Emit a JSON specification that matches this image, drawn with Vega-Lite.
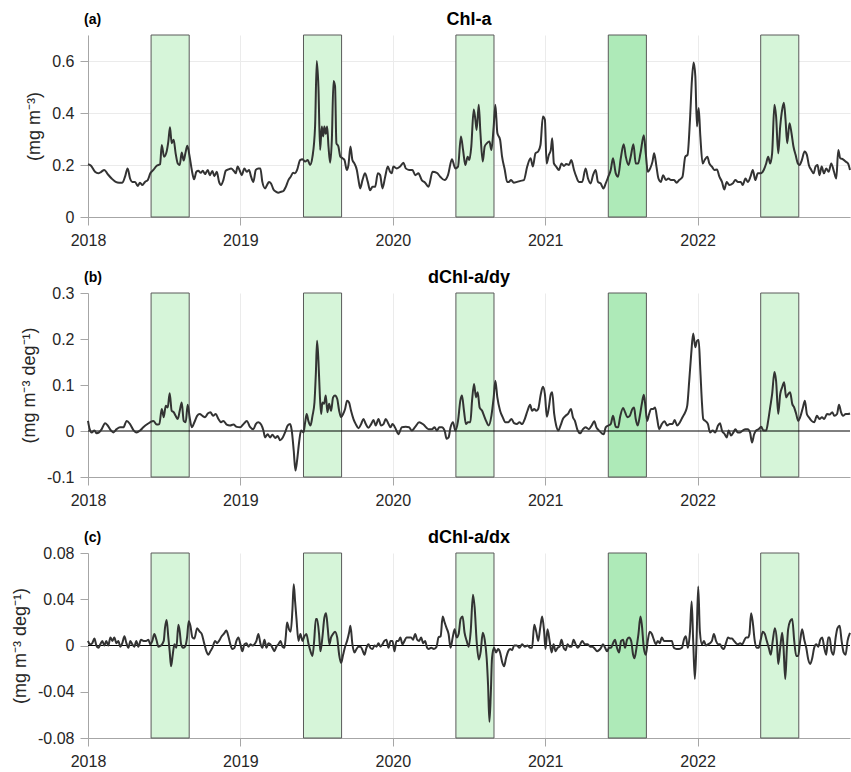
{
"$schema": "https://vega.github.io/schema/vega-lite/v6.json",
"padding": {"left": 11, "top": 11, "right": 0, "bottom": 0},
"spacing": 21,
"config": {
  "font": "Liberation Sans",
  "view": {"stroke": null},
  "axis": {"labelFontSize": 16, "labelColor": "#262626", "titleFontSize": 18, "titleFontWeight": "normal", "titleColor": "#262626", "domainColor": "#a6a6a6", "tickColor": "#a6a6a6", "tickSize": 8, "gridColor": "#ebebeb", "labelFlush": false}
},
"datasets": {
"boxes": [{"s":2018.414,"e":2018.664,"k":"n"},{"s":2019.414,"e":2019.664,"k":"n"},{"s":2020.414,"e":2020.664,"k":"n"},{"s":2021.414,"e":2021.664,"k":"h"},{"s":2022.414,"e":2022.664,"k":"n"}],
"a": [
{"t":2018.000,"v":0.203},{"t":2018.020,"v":0.197},{"t":2018.046,"v":0.174},{"t":2018.068,"v":0.168},{"t":2018.085,"v":0.173},{"t":2018.107,"v":0.181},{"t":2018.129,"v":0.165},{"t":2018.155,"v":0.148},{"t":2018.182,"v":0.135},{"t":2018.204,"v":0.132},{"t":2018.225,"v":0.132},{"t":2018.243,"v":0.155},{"t":2018.260,"v":0.187},{"t":2018.276,"v":0.148},{"t":2018.291,"v":0.135},{"t":2018.309,"v":0.135},{"t":2018.326,"v":0.119},{"t":2018.341,"v":0.132},{"t":2018.357,"v":0.123},{"t":2018.374,"v":0.135},{"t":2018.392,"v":0.142},{"t":2018.409,"v":0.168},{"t":2018.429,"v":0.181},{"t":2018.451,"v":0.197},{"t":2018.473,"v":0.203},{"t":2018.484,"v":0.277},{"t":2018.499,"v":0.232},{"t":2018.516,"v":0.252},{"t":2018.527,"v":0.29},{"t":2018.538,"v":0.345},{"t":2018.549,"v":0.284},{"t":2018.562,"v":0.297},{"t":2018.575,"v":0.245},{"t":2018.589,"v":0.206},{"t":2018.602,"v":0.2},{"t":2018.615,"v":0.248},{"t":2018.628,"v":0.217},{"t":2018.639,"v":0.245},{"t":2018.652,"v":0.274},{"t":2018.665,"v":0.239},{"t":2018.681,"v":0.181},{"t":2018.696,"v":0.145},{"t":2018.711,"v":0.174},{"t":2018.724,"v":0.178},{"t":2018.740,"v":0.17},{"t":2018.753,"v":0.178},{"t":2018.768,"v":0.165},{"t":2018.786,"v":0.181},{"t":2018.799,"v":0.161},{"t":2018.816,"v":0.177},{"t":2018.829,"v":0.157},{"t":2018.845,"v":0.174},{"t":2018.860,"v":0.135},{"t":2018.873,"v":0.123},{"t":2018.888,"v":0.142},{"t":2018.904,"v":0.178},{"t":2018.921,"v":0.183},{"t":2018.939,"v":0.187},{"t":2018.956,"v":0.178},{"t":2018.969,"v":0.168},{"t":2018.982,"v":0.194},{"t":2018.996,"v":0.178},{"t":2019.009,"v":0.161},{"t":2019.026,"v":0.187},{"t":2019.042,"v":0.174},{"t":2019.057,"v":0.181},{"t":2019.070,"v":0.155},{"t":2019.085,"v":0.135},{"t":2019.101,"v":0.181},{"t":2019.118,"v":0.187},{"t":2019.131,"v":0.187},{"t":2019.144,"v":0.135},{"t":2019.162,"v":0.11},{"t":2019.175,"v":0.123},{"t":2019.188,"v":0.135},{"t":2019.201,"v":0.129},{"t":2019.217,"v":0.106},{"t":2019.234,"v":0.097},{"t":2019.249,"v":0.093},{"t":2019.267,"v":0.097},{"t":2019.282,"v":0.1},{"t":2019.298,"v":0.116},{"t":2019.315,"v":0.142},{"t":2019.330,"v":0.155},{"t":2019.346,"v":0.17},{"t":2019.359,"v":0.168},{"t":2019.372,"v":0.181},{"t":2019.392,"v":0.219},{"t":2019.407,"v":0.222},{"t":2019.425,"v":0.213},{"t":2019.442,"v":0.219},{"t":2019.457,"v":0.2},{"t":2019.473,"v":0.232},{"t":2019.490,"v":0.348},{"t":2019.501,"v":0.6},{"t":2019.512,"v":0.5},{"t":2019.523,"v":0.258},{"t":2019.534,"v":0.348},{"t":2019.543,"v":0.31},{"t":2019.551,"v":0.348},{"t":2019.560,"v":0.32},{"t":2019.569,"v":0.348},{"t":2019.578,"v":0.271},{"t":2019.589,"v":0.209},{"t":2019.600,"v":0.297},{"t":2019.611,"v":0.523},{"t":2019.621,"v":0.503},{"t":2019.630,"v":0.284},{"t":2019.643,"v":0.271},{"t":2019.656,"v":0.232},{"t":2019.670,"v":0.226},{"t":2019.683,"v":0.219},{"t":2019.698,"v":0.181},{"t":2019.709,"v":0.2},{"t":2019.722,"v":0.271},{"t":2019.735,"v":0.219},{"t":2019.748,"v":0.206},{"t":2019.764,"v":0.181},{"t":2019.775,"v":0.142},{"t":2019.786,"v":0.11},{"t":2019.801,"v":0.142},{"t":2019.818,"v":0.168},{"t":2019.836,"v":0.135},{"t":2019.851,"v":0.103},{"t":2019.867,"v":0.116},{"t":2019.884,"v":0.116},{"t":2019.902,"v":0.168},{"t":2019.917,"v":0.161},{"t":2019.932,"v":0.11},{"t":2019.950,"v":0.155},{"t":2019.967,"v":0.194},{"t":2019.982,"v":0.174},{"t":2019.993,"v":0.168},{"t":2020.004,"v":0.194},{"t":2020.026,"v":0.187},{"t":2020.048,"v":0.194},{"t":2020.070,"v":0.209},{"t":2020.085,"v":0.187},{"t":2020.107,"v":0.181},{"t":2020.129,"v":0.181},{"t":2020.147,"v":0.161},{"t":2020.168,"v":0.168},{"t":2020.190,"v":0.142},{"t":2020.212,"v":0.132},{"t":2020.234,"v":0.116},
{"t":2020.261,"v":0.174},{"t":2020.289,"v":0.17},{"t":2020.311,"v":0.155},{"t":2020.340,"v":0.142},{"t":2020.362,"v":0.161},{"t":2020.388,"v":0.222},{"t":2020.410,"v":0.187},{"t":2020.428,"v":0.194},{"t":2020.447,"v":0.31},{"t":2020.461,"v":0.258},{"t":2020.476,"v":0.2},{"t":2020.491,"v":0.232},{"t":2020.502,"v":0.219},{"t":2020.515,"v":0.271},{"t":2020.531,"v":0.413},{"t":2020.542,"v":0.374},{"t":2020.550,"v":0.335},{"t":2020.564,"v":0.432},{"t":2020.575,"v":0.323},{"t":2020.590,"v":0.213},{"t":2020.603,"v":0.271},{"t":2020.618,"v":0.284},{"t":2020.634,"v":0.29},{"t":2020.647,"v":0.258},{"t":2020.662,"v":0.348},{"t":2020.673,"v":0.432},{"t":2020.686,"v":0.323},{"t":2020.704,"v":0.297},{"t":2020.717,"v":0.232},{"t":2020.735,"v":0.181},{"t":2020.750,"v":0.135},{"t":2020.761,"v":0.135},{"t":2020.776,"v":0.142},{"t":2020.794,"v":0.132},{"t":2020.816,"v":0.135},{"t":2020.838,"v":0.139},{"t":2020.860,"v":0.142},{"t":2020.882,"v":0.194},{"t":2020.904,"v":0.226},{"t":2020.919,"v":0.194},{"t":2020.936,"v":0.245},{"t":2020.954,"v":0.252},{"t":2020.969,"v":0.277},{"t":2020.985,"v":0.387},{"t":2020.998,"v":0.374},{"t":2021.009,"v":0.206},{"t":2021.024,"v":0.239},{"t":2021.037,"v":0.258},{"t":2021.046,"v":0.303},{"t":2021.057,"v":0.206},{"t":2021.072,"v":0.194},{"t":2021.090,"v":0.181},{"t":2021.107,"v":0.206},{"t":2021.123,"v":0.196},{"t":2021.138,"v":0.204},{"t":2021.156,"v":0.2},{"t":2021.171,"v":0.219},{"t":2021.189,"v":0.181},{"t":2021.204,"v":0.155},{"t":2021.221,"v":0.135},{"t":2021.243,"v":0.135},{"t":2021.265,"v":0.187},{"t":2021.281,"v":0.148},{"t":2021.298,"v":0.129},{"t":2021.314,"v":0.161},{"t":2021.331,"v":0.181},{"t":2021.346,"v":0.135},{"t":2021.364,"v":0.129},{"t":2021.382,"v":0.11},{"t":2021.397,"v":0.129},{"t":2021.414,"v":0.155},{"t":2021.430,"v":0.181},{"t":2021.445,"v":0.226},{"t":2021.463,"v":0.168},{"t":2021.478,"v":0.155},{"t":2021.496,"v":0.226},{"t":2021.515,"v":0.28},{"t":2021.529,"v":0.232},{"t":2021.546,"v":0.2},{"t":2021.561,"v":0.232},{"t":2021.579,"v":0.28},{"t":2021.594,"v":0.206},{"t":2021.610,"v":0.206},{"t":2021.625,"v":0.245},{"t":2021.647,"v":0.314},{"t":2021.660,"v":0.245},{"t":2021.673,"v":0.174},{"t":2021.689,"v":0.187},{"t":2021.704,"v":0.213},{"t":2021.715,"v":0.245},{"t":2021.730,"v":0.194},{"t":2021.743,"v":0.148},{"t":2021.759,"v":0.135},{"t":2021.774,"v":0.161},{"t":2021.792,"v":0.142},{"t":2021.809,"v":0.148},{"t":2021.825,"v":0.142},{"t":2021.846,"v":0.142},{"t":2021.862,"v":0.132},{"t":2021.879,"v":0.142},{"t":2021.901,"v":0.155},{"t":2021.919,"v":0.232},{"t":2021.934,"v":0.239},{"t":2021.950,"v":0.374},{"t":2021.963,"v":0.529},{"t":2021.974,"v":0.594},{"t":2021.985,"v":0.542},{"t":2021.996,"v":0.348},{"t":2022.007,"v":0.419},{"t":2022.018,"v":0.31},{"t":2022.033,"v":0.206},{"t":2022.046,"v":0.219},{"t":2022.064,"v":0.232},{"t":2022.077,"v":0.206},{"t":2022.094,"v":0.194},{"t":2022.110,"v":0.181},{"t":2022.127,"v":0.183},{"t":2022.143,"v":0.155},{"t":2022.160,"v":0.135},{"t":2022.175,"v":0.106},{"t":2022.191,"v":0.135},{"t":2022.208,"v":0.123},{"t":2022.230,"v":0.129},{"t":2022.248,"v":0.142},{"t":2022.265,"v":0.135},{"t":2022.283,"v":0.135},{"t":2022.296,"v":0.123},{"t":2022.314,"v":0.148},{"t":2022.329,"v":0.135},{"t":2022.347,"v":0.155},{"t":2022.362,"v":0.181},{"t":2022.379,"v":0.142},{"t":2022.395,"v":0.168},{"t":2022.414,"v":0.168},{"t":2022.434,"v":0.181},{"t":2022.450,"v":0.206},{"t":2022.463,"v":0.232},{"t":2022.476,"v":0.206},{"t":2022.489,"v":0.245},{"t":2022.504,"v":0.432},{"t":2022.515,"v":0.387},{"t":2022.529,"v":0.245},{"t":2022.542,"v":0.348},{"t":2022.555,"v":0.413},{"t":2022.566,"v":0.439},{"t":2022.577,"v":0.374},{"t":2022.588,"v":0.284},{"t":2022.603,"v":0.361},{"t":2022.616,"v":0.323},{"t":2022.629,"v":0.271},{"t":2022.643,"v":0.239},{"t":2022.658,"v":0.206},{"t":2022.669,"v":0.2},{"t":2022.684,"v":0.219},{"t":2022.702,"v":0.252},{"t":2022.717,"v":0.239},{"t":2022.730,"v":0.2},{"t":2022.746,"v":0.181},{"t":2022.761,"v":0.168},{"t":2022.774,"v":0.194},{"t":2022.787,"v":0.2},{"t":2022.800,"v":0.161},{"t":2022.814,"v":0.194},{"t":2022.829,"v":0.168},{"t":2022.844,"v":0.187},{"t":2022.860,"v":0.174},{"t":2022.877,"v":0.206},{"t":2022.895,"v":0.174},{"t":2022.910,"v":0.148},{"t":2022.923,"v":0.258},{"t":2022.936,"v":0.226},{"t":2022.954,"v":0.222},{"t":2022.972,"v":0.213},{"t":2022.987,"v":0.206},{"t":2023.000,"v":0.181}
],
"b": [
{"t":2018.000,"v":0.022},{"t":2018.011,"v":0.004},{"t":2018.024,"v":-0.003},{"t":2018.042,"v":0.001},{"t":2018.057,"v":-0.005},{"t":2018.072,"v":-0.003},{"t":2018.090,"v":0.004},{"t":2018.112,"v":0.017},{"t":2018.129,"v":0.012},{"t":2018.151,"v":0.001},{"t":2018.166,"v":-0.003},{"t":2018.188,"v":0.004},{"t":2018.210,"v":0.008},{"t":2018.232,"v":0.008},{"t":2018.254,"v":0.022},{"t":2018.276,"v":0.015},{"t":2018.298,"v":0.002},{"t":2018.319,"v":-0.003},{"t":2018.341,"v":0.001},{"t":2018.363,"v":0.008},{"t":2018.385,"v":0.014},{"t":2018.407,"v":0.019},{"t":2018.429,"v":0.022},{"t":2018.451,"v":0.014},{"t":2018.468,"v":0.015},{"t":2018.484,"v":0.048},{"t":2018.497,"v":0.03},{"t":2018.510,"v":0.055},{"t":2018.523,"v":0.051},{"t":2018.536,"v":0.082},{"t":2018.549,"v":0.044},{"t":2018.562,"v":0.041},{"t":2018.575,"v":0.033},{"t":2018.589,"v":0.026},{"t":2018.602,"v":0.044},{"t":2018.615,"v":0.062},{"t":2018.628,"v":0.022},{"t":2018.641,"v":0.019},{"t":2018.654,"v":0.057},{"t":2018.667,"v":0.03},{"t":2018.681,"v":0.008},{"t":2018.698,"v":0.019},{"t":2018.716,"v":0.033},{"t":2018.733,"v":0.037},{"t":2018.751,"v":0.033},{"t":2018.768,"v":0.03},{"t":2018.786,"v":0.038},{"t":2018.803,"v":0.041},{"t":2018.821,"v":0.033},{"t":2018.838,"v":0.037},{"t":2018.856,"v":0.026},{"t":2018.873,"v":0.019},{"t":2018.888,"v":0.022},{"t":2018.910,"v":0.014},{"t":2018.932,"v":0.012},{"t":2018.954,"v":0.014},{"t":2018.976,"v":0.009},{"t":2018.998,"v":0.008},{"t":2019.020,"v":0.015},{"t":2019.042,"v":0.022},{"t":2019.063,"v":0.009},{"t":2019.085,"v":0.004},{"t":2019.101,"v":0.015},{"t":2019.118,"v":0.019},{"t":2019.136,"v":0.014},{"t":2019.151,"v":0.001},{"t":2019.162,"v":-0.014},{"t":2019.179,"v":-0.007},{"t":2019.195,"v":-0.014},{"t":2019.210,"v":-0.008},{"t":2019.228,"v":-0.015},{"t":2019.245,"v":-0.011},{"t":2019.260,"v":-0.02},{"t":2019.278,"v":-0.014},{"t":2019.293,"v":-0.003},{"t":2019.311,"v":0.012},{"t":2019.326,"v":0.015},{"t":2019.337,"v":0.001},{"t":2019.350,"v":-0.043},{"t":2019.361,"v":-0.086},{"t":2019.372,"v":-0.064},{"t":2019.385,"v":-0.025},{"t":2019.398,"v":0.001},{"t":2019.414,"v":-0.003},{"t":2019.425,"v":0.019},{"t":2019.435,"v":0.037},{"t":2019.446,"v":0.022},{"t":2019.460,"v":0.012},{"t":2019.473,"v":0.033},{"t":2019.486,"v":0.062},{"t":2019.495,"v":0.124},{"t":2019.503,"v":0.196},{"t":2019.512,"v":0.153},{"t":2019.521,"v":0.08},{"t":2019.530,"v":0.037},{"t":2019.538,"v":0.062},{"t":2019.549,"v":0.059},{"t":2019.560,"v":0.077},{"t":2019.571,"v":0.041},{"t":2019.582,"v":0.059},{"t":2019.595,"v":0.044},{"t":2019.608,"v":0.073},{"t":2019.621,"v":0.077},{"t":2019.635,"v":0.07},{"t":2019.648,"v":0.044},{"t":2019.661,"v":0.03},{"t":2019.674,"v":0.037},{"t":2019.687,"v":0.048},{"t":2019.700,"v":0.066},{"t":2019.713,"v":0.062},{"t":2019.726,"v":0.044},{"t":2019.742,"v":0.026},{"t":2019.757,"v":0.015},{"t":2019.775,"v":0.006},{"t":2019.792,"v":0.015},{"t":2019.807,"v":0.026},{"t":2019.823,"v":0.015},{"t":2019.840,"v":0.007},{"t":2019.858,"v":0.015},{"t":2019.873,"v":0.024},{"t":2019.888,"v":0.012},{"t":2019.906,"v":0.026},{"t":2019.923,"v":0.012},{"t":2019.939,"v":0.015},{"t":2019.954,"v":0.026},{"t":2019.972,"v":0.015},{"t":2019.985,"v":0.008},{"t":2019.998,"v":0.015},{"t":2020.020,"v":0.004},{"t":2020.037,"v":-0.007},{"t":2020.059,"v":0.008},{"t":2020.085,"v":0.009},{"t":2020.107,"v":0.008},{"t":2020.125,"v":0.001},{"t":2020.147,"v":0.009},{"t":2020.173,"v":0.019},{"t":2020.201,"v":0.014},{"t":2020.234,"v":0.004},
{"t":2020.257,"v":0.004},{"t":2020.274,"v":0.008},{"t":2020.289,"v":0.001},{"t":2020.305,"v":0.008},{"t":2020.322,"v":0.008},{"t":2020.340,"v":0.001},{"t":2020.353,"v":-0.017},{"t":2020.366,"v":-0.014},{"t":2020.379,"v":0.008},{"t":2020.395,"v":0.019},{"t":2020.410,"v":0.001},{"t":2020.428,"v":0.022},{"t":2020.443,"v":0.066},{"t":2020.454,"v":0.077},{"t":2020.467,"v":0.044},{"t":2020.480,"v":0.015},{"t":2020.493,"v":0.019},{"t":2020.509,"v":0.019},{"t":2020.520,"v":0.066},{"t":2020.533,"v":0.102},{"t":2020.546,"v":0.073},{"t":2020.557,"v":0.084},{"t":2020.570,"v":0.051},{"t":2020.586,"v":0.044},{"t":2020.599,"v":0.033},{"t":2020.612,"v":0.022},{"t":2020.629,"v":0.012},{"t":2020.647,"v":0.033},{"t":2020.662,"v":0.073},{"t":2020.673,"v":0.109},{"t":2020.686,"v":0.073},{"t":2020.704,"v":0.044},{"t":2020.721,"v":0.03},{"t":2020.739,"v":0.019},{"t":2020.757,"v":0.019},{"t":2020.779,"v":0.026},{"t":2020.796,"v":0.017},{"t":2020.814,"v":0.015},{"t":2020.831,"v":0.019},{"t":2020.849,"v":0.015},{"t":2020.866,"v":0.026},{"t":2020.884,"v":0.044},{"t":2020.901,"v":0.057},{"t":2020.914,"v":0.044},{"t":2020.928,"v":0.048},{"t":2020.941,"v":0.044},{"t":2020.954,"v":0.048},{"t":2020.971,"v":0.08},{"t":2020.985,"v":0.096},{"t":2020.998,"v":0.08},{"t":2021.011,"v":0.031},{"t":2021.024,"v":0.051},{"t":2021.037,"v":0.08},{"t":2021.046,"v":0.084},{"t":2021.059,"v":0.037},{"t":2021.072,"v":0.012},{"t":2021.086,"v":0.001},{"t":2021.101,"v":0.012},{"t":2021.116,"v":0.026},{"t":2021.134,"v":0.033},{"t":2021.151,"v":0.038},{"t":2021.169,"v":0.048},{"t":2021.182,"v":0.03},{"t":2021.195,"v":0.022},{"t":2021.213,"v":0.001},{"t":2021.230,"v":-0.005},{"t":2021.248,"v":0.004},{"t":2021.265,"v":0.008},{"t":2021.287,"v":0.004},{"t":2021.305,"v":0.012},{"t":2021.322,"v":0.021},{"t":2021.336,"v":0.008},{"t":2021.353,"v":0.001},{"t":2021.371,"v":-0.005},{"t":2021.384,"v":-0.007},{"t":2021.397,"v":0.008},{"t":2021.414,"v":0.012},{"t":2021.430,"v":0.015},{"t":2021.445,"v":0.033},{"t":2021.463,"v":0.009},{"t":2021.478,"v":0.008},{"t":2021.493,"v":0.033},{"t":2021.511,"v":0.05},{"t":2021.524,"v":0.041},{"t":2021.539,"v":0.03},{"t":2021.555,"v":0.033},{"t":2021.572,"v":0.048},{"t":2021.583,"v":0.051},{"t":2021.594,"v":0.026},{"t":2021.607,"v":0.012},{"t":2021.621,"v":0.033},{"t":2021.634,"v":0.059},{"t":2021.647,"v":0.079},{"t":2021.656,"v":0.059},{"t":2021.669,"v":0.022},{"t":2021.682,"v":0.037},{"t":2021.695,"v":0.048},{"t":2021.708,"v":0.048},{"t":2021.721,"v":0.051},{"t":2021.735,"v":0.026},{"t":2021.748,"v":0.004},{"t":2021.765,"v":0.015},{"t":2021.783,"v":0.021},{"t":2021.800,"v":0.012},{"t":2021.818,"v":0.015},{"t":2021.836,"v":0.015},{"t":2021.849,"v":0.024},{"t":2021.866,"v":0.012},{"t":2021.884,"v":0.019},{"t":2021.901,"v":0.03},{"t":2021.919,"v":0.041},{"t":2021.932,"v":0.055},{"t":2021.945,"v":0.109},{"t":2021.958,"v":0.167},{"t":2021.971,"v":0.212},{"t":2021.985,"v":0.182},{"t":2021.996,"v":0.196},{"t":2022.007,"v":0.198},{"t":2022.018,"v":0.131},{"t":2022.029,"v":0.059},{"t":2022.037,"v":0.026},{"t":2022.050,"v":0.022},{"t":2022.068,"v":0.015},{"t":2022.081,"v":-0.003},{"t":2022.099,"v":0.001},{"t":2022.116,"v":-0.003},{"t":2022.134,"v":0.012},{"t":2022.147,"v":0.017},{"t":2022.160,"v":0.001},{"t":2022.178,"v":-0.007},{"t":2022.191,"v":-0.014},{"t":2022.204,"v":0.001},{"t":2022.219,"v":-0.01},{"t":2022.235,"v":-0.003},{"t":2022.248,"v":0.004},{"t":2022.263,"v":-0.003},{"t":2022.279,"v":-0.003},{"t":2022.296,"v":0.001},{"t":2022.314,"v":0.004},{"t":2022.329,"v":0.004},{"t":2022.344,"v":-0.003},{"t":2022.357,"v":-0.025},{"t":2022.371,"v":-0.007},{"t":2022.384,"v":0.001},{"t":2022.401,"v":0.004},{"t":2022.417,"v":0.009},{"t":2022.432,"v":0.001},{"t":2022.450,"v":0.001},{"t":2022.463,"v":0.022},{"t":2022.476,"v":0.051},{"t":2022.489,"v":0.08},{"t":2022.504,"v":0.128},{"t":2022.515,"v":0.109},{"t":2022.529,"v":0.037},{"t":2022.542,"v":0.08},{"t":2022.555,"v":0.095},{"t":2022.568,"v":0.106},{"t":2022.581,"v":0.073},{"t":2022.594,"v":0.08},{"t":2022.607,"v":0.084},{"t":2022.621,"v":0.059},{"t":2022.634,"v":0.051},{"t":2022.647,"v":0.037},{"t":2022.660,"v":0.022},{"t":2022.673,"v":0.03},{"t":2022.691,"v":0.051},{"t":2022.704,"v":0.066},{"t":2022.717,"v":0.037},{"t":2022.730,"v":0.03},{"t":2022.748,"v":0.022},{"t":2022.765,"v":0.019},{"t":2022.783,"v":0.033},{"t":2022.800,"v":0.026},{"t":2022.816,"v":0.03},{"t":2022.831,"v":0.026},{"t":2022.849,"v":0.037},{"t":2022.866,"v":0.036},{"t":2022.884,"v":0.041},{"t":2022.897,"v":0.033},{"t":2022.915,"v":0.037},{"t":2022.928,"v":0.057},{"t":2022.941,"v":0.041},{"t":2022.954,"v":0.033},{"t":2022.972,"v":0.037},{"t":2022.987,"v":0.037},{"t":2023.000,"v":0.038}
],
"c": [
{"t":2018.000,"v":0.004},{"t":2018.013,"v":0.001},{"t":2018.028,"v":0.002},{"t":2018.042,"v":0.006},{"t":2018.055,"v":0},{"t":2018.068,"v":-0.002},{"t":2018.081,"v":0.001},{"t":2018.094,"v":0.004},{"t":2018.107,"v":0},{"t":2018.120,"v":0.004},{"t":2018.133,"v":0},{"t":2018.147,"v":0.007},{"t":2018.160,"v":0.004},{"t":2018.173,"v":0.007},{"t":2018.186,"v":0.002},{"t":2018.199,"v":0.004},{"t":2018.212,"v":-0.001},{"t":2018.225,"v":0.002},{"t":2018.239,"v":0.008},{"t":2018.252,"v":0.002},{"t":2018.265,"v":-0.002},{"t":2018.278,"v":0.004},{"t":2018.291,"v":0.001},{"t":2018.304,"v":-0.001},{"t":2018.317,"v":0.004},{"t":2018.330,"v":-0.001},{"t":2018.348,"v":0.005},{"t":2018.365,"v":0.004},{"t":2018.383,"v":0.004},{"t":2018.396,"v":0.005},{"t":2018.409,"v":0.001},{"t":2018.422,"v":0.004},{"t":2018.435,"v":0.01},{"t":2018.449,"v":0.005},{"t":2018.462,"v":-0.001},{"t":2018.479,"v":0},{"t":2018.497,"v":0.004},{"t":2018.505,"v":0.015},{"t":2018.516,"v":0.022},{"t":2018.527,"v":0.007},{"t":2018.536,"v":-0.005},{"t":2018.545,"v":-0.018},{"t":2018.556,"v":-0.008},{"t":2018.567,"v":0.001},{"t":2018.580,"v":-0.002},{"t":2018.593,"v":0.018},{"t":2018.602,"v":0.012},{"t":2018.611,"v":0.001},{"t":2018.624,"v":-0.002},{"t":2018.637,"v":-0.001},{"t":2018.650,"v":0.007},{"t":2018.661,"v":0.021},{"t":2018.672,"v":0.017},{"t":2018.685,"v":0.007},{"t":2018.698,"v":0.006},{"t":2018.716,"v":0.015},{"t":2018.733,"v":0.012},{"t":2018.746,"v":0.01},{"t":2018.764,"v":0.001},{"t":2018.777,"v":-0.005},{"t":2018.790,"v":-0.008},{"t":2018.803,"v":-0.005},{"t":2018.816,"v":-0.002},{"t":2018.834,"v":0.004},{"t":2018.847,"v":0.002},{"t":2018.860,"v":0.004},{"t":2018.877,"v":0.008},{"t":2018.891,"v":0.01},{"t":2018.908,"v":0.013},{"t":2018.921,"v":0.008},{"t":2018.934,"v":0.001},{"t":2018.947,"v":-0.003},{"t":2018.961,"v":-0.002},{"t":2018.974,"v":0.004},{"t":2018.987,"v":0.007},{"t":2019.000,"v":0.001},{"t":2019.013,"v":-0.005},{"t":2019.026,"v":0.001},{"t":2019.039,"v":0.002},{"t":2019.053,"v":-0.001},{"t":2019.066,"v":0.001},{"t":2019.079,"v":0},{"t":2019.092,"v":0.001},{"t":2019.105,"v":0.004},{"t":2019.118,"v":0.01},{"t":2019.131,"v":0.002},{"t":2019.144,"v":-0.002},{"t":2019.158,"v":0.005},{"t":2019.171,"v":-0.002},{"t":2019.184,"v":0.002},{"t":2019.197,"v":0.001},{"t":2019.210,"v":-0.002},{"t":2019.223,"v":-0.005},{"t":2019.236,"v":-0.001},{"t":2019.249,"v":0.001},{"t":2019.263,"v":0.004},{"t":2019.276,"v":-0.001},{"t":2019.289,"v":-0.002},{"t":2019.298,"v":0.008},{"t":2019.306,"v":0.02},{"t":2019.319,"v":0.014},{"t":2019.330,"v":0.012},{"t":2019.341,"v":0.03},{"t":2019.350,"v":0.053},{"t":2019.359,"v":0.038},{"t":2019.368,"v":0.023},{"t":2019.381,"v":0.004},{"t":2019.394,"v":0.01},{"t":2019.407,"v":0.004},{"t":2019.420,"v":0.008},{"t":2019.433,"v":0.01},{"t":2019.446,"v":0.002},{"t":2019.460,"v":-0.005},{"t":2019.473,"v":-0.009},{"t":2019.484,"v":0.004},{"t":2019.495,"v":0.023},{"t":2019.503,"v":0.023},{"t":2019.516,"v":0.01},{"t":2019.525,"v":-0.005},{"t":2019.538,"v":0.007},{"t":2019.551,"v":0.024},{"t":2019.562,"v":0.028},{"t":2019.573,"v":0.015},{"t":2019.584,"v":0.001},{"t":2019.595,"v":0.007},{"t":2019.608,"v":0.01},{"t":2019.621,"v":0.012},{"t":2019.635,"v":0.007},{"t":2019.648,"v":-0.008},{"t":2019.661,"v":-0.015},{"t":2019.674,"v":-0.008},{"t":2019.687,"v":-0.001},{"t":2019.700,"v":0.004},{"t":2019.713,"v":0.011},{"t":2019.722,"v":0.017},{"t":2019.735,"v":0.001},{"t":2019.748,"v":-0.006},{"t":2019.762,"v":-0.003},{"t":2019.775,"v":-0.001},{"t":2019.788,"v":-0.001},{"t":2019.801,"v":-0.004},{"t":2019.814,"v":-0.008},{"t":2019.827,"v":-0.002},{"t":2019.840,"v":0.001},{"t":2019.853,"v":-0.002},{"t":2019.867,"v":-0.003},{"t":2019.880,"v":0},{"t":2019.893,"v":-0.001},{"t":2019.906,"v":0.002},{"t":2019.919,"v":-0.001},{"t":2019.932,"v":0.001},{"t":2019.945,"v":0.004},{"t":2019.958,"v":0.005},{"t":2019.972,"v":-0.002},{"t":2019.985,"v":0.004},{"t":2019.998,"v":0.004},{"t":2020.011,"v":-0.005},{"t":2020.024,"v":0.004},{"t":2020.037,"v":0.004},{"t":2020.050,"v":0.007},{"t":2020.063,"v":0.001},{"t":2020.077,"v":0.004},{"t":2020.090,"v":0.007},{"t":2020.107,"v":0.007},{"t":2020.120,"v":0.007},{"t":2020.133,"v":0.005},{"t":2020.147,"v":0.01},{"t":2020.160,"v":0.005},{"t":2020.173,"v":0.004},{"t":2020.186,"v":0.007},{"t":2020.199,"v":0.002},{"t":2020.212,"v":0.004},{"t":2020.225,"v":-0.002},
{"t":2020.235,"v":-0.003},{"t":2020.252,"v":-0.002},{"t":2020.270,"v":-0.003},{"t":2020.287,"v":-0.001},{"t":2020.300,"v":0.007},{"t":2020.314,"v":0.008},{"t":2020.327,"v":0.025},{"t":2020.340,"v":0.02},{"t":2020.353,"v":0.015},{"t":2020.366,"v":0.01},{"t":2020.379,"v":-0.002},{"t":2020.393,"v":0.007},{"t":2020.406,"v":0.014},{"t":2020.419,"v":0.007},{"t":2020.432,"v":0.01},{"t":2020.445,"v":0.023},{"t":2020.458,"v":0.025},{"t":2020.471,"v":0.011},{"t":2020.485,"v":0.004},{"t":2020.498,"v":-0.001},{"t":2020.511,"v":0.012},{"t":2020.526,"v":0.044},{"t":2020.537,"v":0.033},{"t":2020.550,"v":0.004},{"t":2020.564,"v":-0.012},{"t":2020.577,"v":-0.005},{"t":2020.590,"v":0.011},{"t":2020.603,"v":0.005},{"t":2020.616,"v":-0.011},{"t":2020.625,"v":-0.034},{"t":2020.634,"v":-0.066},{"t":2020.643,"v":-0.042},{"t":2020.651,"v":-0.011},{"t":2020.664,"v":-0.002},{"t":2020.678,"v":-0.006},{"t":2020.691,"v":-0.003},{"t":2020.704,"v":-0.006},{"t":2020.717,"v":-0.014},{"t":2020.730,"v":-0.018},{"t":2020.743,"v":-0.011},{"t":2020.757,"v":-0.005},{"t":2020.770,"v":-0.003},{"t":2020.783,"v":-0.004},{"t":2020.796,"v":0},{"t":2020.814,"v":0},{"t":2020.831,"v":-0.002},{"t":2020.849,"v":0.001},{"t":2020.866,"v":-0.001},{"t":2020.884,"v":0},{"t":2020.901,"v":-0.002},{"t":2020.914,"v":-0.002},{"t":2020.928,"v":0.018},{"t":2020.941,"v":0.012},{"t":2020.954,"v":0.004},{"t":2020.967,"v":0.015},{"t":2020.980,"v":0.025},{"t":2020.993,"v":0.012},{"t":2021.002,"v":-0.003},{"t":2021.015,"v":0.014},{"t":2021.029,"v":0.004},{"t":2021.042,"v":-0.006},{"t":2021.055,"v":0.001},{"t":2021.068,"v":-0.005},{"t":2021.081,"v":-0.002},{"t":2021.094,"v":-0.001},{"t":2021.107,"v":0.005},{"t":2021.121,"v":-0.002},{"t":2021.134,"v":-0.004},{"t":2021.147,"v":0.001},{"t":2021.160,"v":-0.001},{"t":2021.173,"v":-0.001},{"t":2021.186,"v":0.005},{"t":2021.200,"v":0.001},{"t":2021.213,"v":-0.002},{"t":2021.226,"v":0},{"t":2021.243,"v":0.004},{"t":2021.261,"v":0.001},{"t":2021.279,"v":0.001},{"t":2021.296,"v":-0.001},{"t":2021.309,"v":-0.001},{"t":2021.327,"v":-0.003},{"t":2021.340,"v":-0.005},{"t":2021.353,"v":-0.004},{"t":2021.366,"v":-0.002},{"t":2021.379,"v":0.001},{"t":2021.393,"v":-0.002},{"t":2021.406,"v":-0.005},{"t":2021.419,"v":-0.002},{"t":2021.432,"v":-0.002},{"t":2021.445,"v":0.002},{"t":2021.458,"v":0.005},{"t":2021.471,"v":-0.002},{"t":2021.485,"v":-0.006},{"t":2021.498,"v":0.004},{"t":2021.511,"v":0.005},{"t":2021.524,"v":-0.002},{"t":2021.537,"v":0.005},{"t":2021.550,"v":0.007},{"t":2021.564,"v":0.004},{"t":2021.577,"v":-0.008},{"t":2021.586,"v":-0.011},{"t":2021.599,"v":-0.002},{"t":2021.612,"v":0.01},{"t":2021.625,"v":0.025},{"t":2021.634,"v":0.018},{"t":2021.647,"v":-0.002},{"t":2021.660,"v":-0.008},{"t":2021.673,"v":0.004},{"t":2021.686,"v":0.012},{"t":2021.700,"v":0.01},{"t":2021.713,"v":0.005},{"t":2021.726,"v":0.001},{"t":2021.739,"v":0.004},{"t":2021.752,"v":0.002},{"t":2021.765,"v":0.007},{"t":2021.779,"v":0.004},{"t":2021.792,"v":0.004},{"t":2021.805,"v":0.004},{"t":2021.818,"v":0.004},{"t":2021.831,"v":0.004},{"t":2021.844,"v":-0.002},{"t":2021.862,"v":-0.003},{"t":2021.879,"v":-0.003},{"t":2021.897,"v":-0.002},{"t":2021.910,"v":0.005},{"t":2021.923,"v":0.008},{"t":2021.936,"v":-0.002},{"t":2021.950,"v":0.012},{"t":2021.961,"v":0.038},{"t":2021.971,"v":0.004},{"t":2021.982,"v":-0.029},{"t":2021.993,"v":0.004},{"t":2022.004,"v":0.051},{"t":2022.015,"v":0.012},{"t":2022.029,"v":0.001},{"t":2022.042,"v":0.004},{"t":2022.055,"v":0},{"t":2022.068,"v":0.001},{"t":2022.081,"v":0.002},{"t":2022.094,"v":0.004},{"t":2022.107,"v":0.01},{"t":2022.121,"v":0.004},{"t":2022.134,"v":0.001},{"t":2022.147,"v":0.001},{"t":2022.160,"v":-0.002},{"t":2022.173,"v":-0.003},{"t":2022.186,"v":0.002},{"t":2022.200,"v":0.007},{"t":2022.213,"v":0.006},{"t":2022.226,"v":0.006},{"t":2022.239,"v":0.004},{"t":2022.252,"v":0.002},{"t":2022.265,"v":0.001},{"t":2022.279,"v":0.002},{"t":2022.292,"v":0.001},{"t":2022.305,"v":0.004},{"t":2022.318,"v":0.007},{"t":2022.331,"v":0.007},{"t":2022.340,"v":0.01},{"t":2022.351,"v":0.028},{"t":2022.362,"v":0.02},{"t":2022.375,"v":0.004},{"t":2022.388,"v":-0.002},{"t":2022.401,"v":-0.002},{"t":2022.414,"v":0.005},{"t":2022.428,"v":0.012},{"t":2022.441,"v":0.01},{"t":2022.454,"v":0.004},{"t":2022.467,"v":-0.002},{"t":2022.480,"v":-0.008},{"t":2022.493,"v":0.004},{"t":2022.507,"v":0.015},{"t":2022.520,"v":0.004},{"t":2022.529,"v":-0.016},{"t":2022.542,"v":-0.002},{"t":2022.555,"v":0.011},{"t":2022.564,"v":-0.002},{"t":2022.575,"v":-0.029},{"t":2022.586,"v":-0.002},{"t":2022.594,"v":0.014},{"t":2022.607,"v":0.021},{"t":2022.621,"v":0.023},{"t":2022.634,"v":0.004},{"t":2022.647,"v":-0.009},{"t":2022.660,"v":-0.009},{"t":2022.673,"v":0.004},{"t":2022.686,"v":0.014},{"t":2022.700,"v":0.005},{"t":2022.713,"v":-0.002},{"t":2022.726,"v":-0.012},{"t":2022.739,"v":-0.016},{"t":2022.752,"v":-0.011},{"t":2022.765,"v":-0.002},{"t":2022.779,"v":0.001},{"t":2022.792,"v":-0.001},{"t":2022.805,"v":0.005},{"t":2022.818,"v":0.007},{"t":2022.831,"v":-0.002},{"t":2022.844,"v":-0.008},{"t":2022.857,"v":0.007},{"t":2022.866,"v":0.007},{"t":2022.879,"v":-0.005},{"t":2022.892,"v":-0.008},{"t":2022.906,"v":0.007},{"t":2022.918,"v":0.015},{"t":2022.932,"v":0.017},{"t":2022.945,"v":0.004},{"t":2022.958,"v":-0.006},{"t":2022.971,"v":-0.008},{"t":2022.984,"v":0.004},{"t":2023.000,"v":0.011}
]
},
"vconcat": [
{
 "width": 762, "height": 182,
 "layer": [
  {"data": {"name": "boxes"}, "mark": {"type": "rect", "stroke": "#5a5a5a", "strokeWidth": 1},
   "encoding": {
    "x": {"field": "s", "type": "quantitative", "scale": {"domain": [2018, 2023], "nice": false, "zero": false}, "axis": {"title": null, "values": [2018, 2019, 2020, 2021, 2022], "format": "d", "labelPadding": 7}},
    "x2": {"field": "e"},
    "fill": {"field": "k", "type": "nominal", "scale": {"domain": ["n", "h"], "range": ["#d6f5d9", "#aeeab8"]}, "legend": null}}},
  {"data": {"name": "a"}, "mark": {"type": "line", "color": "#333333", "strokeWidth": 2, "interpolate": "monotone"},
   "encoding": {
    "x": {"field": "t", "type": "quantitative"},
    "y": {"field": "v", "type": "quantitative", "scale": {"domain": [0, 0.7], "nice": false, "zero": false}, "axis": {"title": "(mg m⁻³)", "values": [0, 0.2, 0.4, 0.6], "format": "~g", "labelPadding": 6, "titlePadding": 8, "labelExpr": "replace(datum.label, '−', '-')"}}}},
  {"data": {"values": [{}]}, "mark": {"type": "text", "text": "Chl-a", "fontSize": 18, "fontWeight": "bold", "baseline": "middle", "dy": -15, "color": "#000000"},
   "encoding": {"x": {"datum": 2020.5}, "y": {"datum": 0.7}}},
  {"data": {"values": [{}]}, "mark": {"type": "text", "text": "(a)", "fontSize": 14, "fontWeight": "bold", "align": "left", "baseline": "middle", "dy": -15, "dx": -4, "color": "#000000"},
   "encoding": {"x": {"datum": 2018}, "y": {"datum": 0.7}}}
 ]
},
{
 "width": 762, "height": 184,
 "layer": [
  {"data": {"name": "boxes"}, "mark": {"type": "rect", "stroke": "#5a5a5a", "strokeWidth": 1},
   "encoding": {
    "x": {"field": "s", "type": "quantitative", "scale": {"domain": [2018, 2023], "nice": false, "zero": false}, "axis": {"title": null, "values": [2018, 2019, 2020, 2021, 2022], "format": "d", "labelPadding": 7}},
    "x2": {"field": "e"},
    "fill": {"field": "k", "type": "nominal", "scale": {"domain": ["n", "h"], "range": ["#d6f5d9", "#aeeab8"]}, "legend": null}}},
  {"data": {"values": [{}]}, "mark": {"type": "rule", "color": "#000000", "strokeWidth": 1}, "encoding": {"y": {"datum": 0}}},
  {"data": {"name": "b"}, "mark": {"type": "line", "color": "#333333", "strokeWidth": 2, "interpolate": "monotone"},
   "encoding": {
    "x": {"field": "t", "type": "quantitative"},
    "y": {"field": "v", "type": "quantitative", "scale": {"domain": [-0.1, 0.3], "nice": false, "zero": false}, "axis": {"title": "(mg m⁻³ deg⁻¹)", "values": [-0.1, 0, 0.1, 0.2, 0.3], "format": "~g", "labelPadding": 6, "titlePadding": 8, "labelExpr": "replace(datum.label, '−', '-')"}}}},
  {"data": {"values": [{}]}, "mark": {"type": "text", "text": "dChl-a/dy", "fontSize": 18, "fontWeight": "bold", "baseline": "middle", "dy": -15, "color": "#000000"},
   "encoding": {"x": {"datum": 2020.5}, "y": {"datum": 0.3}}},
  {"data": {"values": [{}]}, "mark": {"type": "text", "text": "(b)", "fontSize": 14, "fontWeight": "bold", "align": "left", "baseline": "middle", "dy": -15, "dx": -4, "color": "#000000"},
   "encoding": {"x": {"datum": 2018}, "y": {"datum": 0.3}}}
 ]
},
{
 "width": 762, "height": 185,
 "layer": [
  {"data": {"name": "boxes"}, "mark": {"type": "rect", "stroke": "#5a5a5a", "strokeWidth": 1},
   "encoding": {
    "x": {"field": "s", "type": "quantitative", "scale": {"domain": [2018, 2023], "nice": false, "zero": false}, "axis": {"title": null, "values": [2018, 2019, 2020, 2021, 2022], "format": "d", "labelPadding": 7}},
    "x2": {"field": "e"},
    "fill": {"field": "k", "type": "nominal", "scale": {"domain": ["n", "h"], "range": ["#d6f5d9", "#aeeab8"]}, "legend": null}}},
  {"data": {"values": [{}]}, "mark": {"type": "rule", "color": "#000000", "strokeWidth": 1}, "encoding": {"y": {"datum": 0}}},
  {"data": {"name": "c"}, "mark": {"type": "line", "color": "#333333", "strokeWidth": 2, "interpolate": "monotone"},
   "encoding": {
    "x": {"field": "t", "type": "quantitative"},
    "y": {"field": "v", "type": "quantitative", "scale": {"domain": [-0.08, 0.08], "nice": false, "zero": false}, "axis": {"title": "(mg m⁻³ deg⁻¹)", "values": [-0.08, -0.04, 0, 0.04, 0.08], "format": "~g", "labelPadding": 6, "titlePadding": 8, "labelExpr": "replace(datum.label, '−', '-')"}}}},
  {"data": {"values": [{}]}, "mark": {"type": "text", "text": "dChl-a/dx", "fontSize": 18, "fontWeight": "bold", "baseline": "middle", "dy": -15, "color": "#000000"},
   "encoding": {"x": {"datum": 2020.5}, "y": {"datum": 0.08}}},
  {"data": {"values": [{}]}, "mark": {"type": "text", "text": "(c)", "fontSize": 14, "fontWeight": "bold", "align": "left", "baseline": "middle", "dy": -15, "dx": -4, "color": "#000000"},
   "encoding": {"x": {"datum": 2018}, "y": {"datum": 0.08}}}
 ]
}
]
}
